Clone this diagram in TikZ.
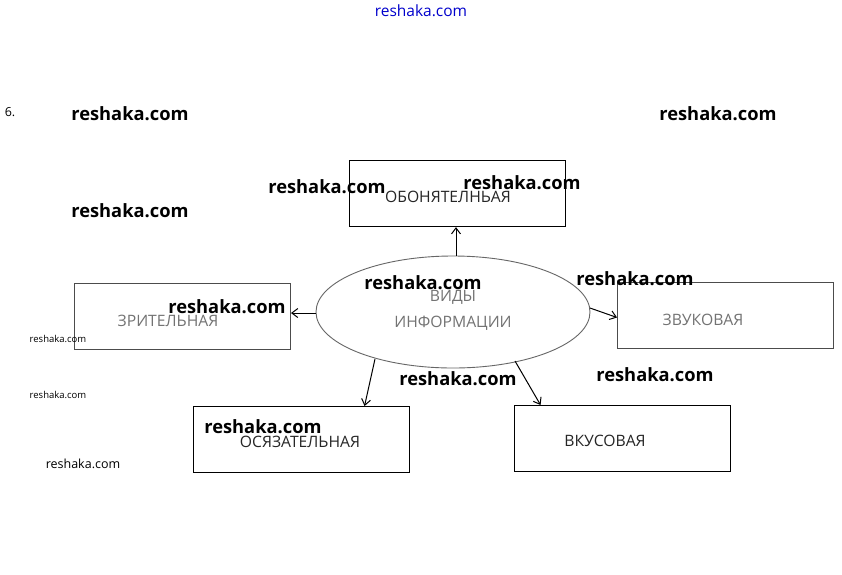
\documentclass[tikz,border=0pt]{standalone}
\usepackage{fontspec}
\setmainfont{Open Sans}
\usetikzlibrary{arrows.meta,calc}
\tikzset{
  box/.style={draw=black, line width=1.1pt, minimum width=216pt, minimum height=66pt, inner sep=0pt, anchor=north west},
  fbox/.style={draw=black!70, line width=1pt, minimum width=216pt, minimum height=66pt, inner sep=0pt, anchor=north west},
  lab/.style={font=\fontsize{15.7}{17}\selectfont, text=black!85, inner sep=0pt},
  flab/.style={font=\fontsize{15.7}{17}\selectfont, text=black!55, inner sep=0pt},
  arr/.style={-{Straight Barb[length=6pt,width=9pt]}, line width=1pt, black},
  wm/.style={font=\fontsize{18.3}{20}\selectfont\bfseries, text=black, inner sep=0pt},
  wms/.style={font=\fontsize{9.5}{11}\selectfont, text=black, inner sep=0pt},
  wmm/.style={font=\fontsize{12.5}{14}\selectfont, text=black, inner sep=0pt},
}
\begin{document}
\begin{tikzpicture}[x=1pt,y=-1pt]
\useasboundingbox[fill=white] (0,0) rectangle (842,574);
% boxes
\node[box]  (ob) at (349,160) {};
\node[fbox] (zr) at (74,283) {};
\node[fbox] (zv) at (617,282) {};
\node[box]  (os) at (193,406) {};
\node[box]  (vk) at (514,405) {};
% box labels
\node[lab]  (tob) at (448,197) {ОБОНЯТЕЛНЬАЯ};
\node[flab] (tzr) at (168,321) {ЗРИТЕЛЬНАЯ};
\node[flab] (tzv) at (703,320) {ЗВУКОВАЯ};
\node[lab]  (tos) at (300,442) {ОСЯЗАТЕЛЬНАЯ};
\node[lab]  (tvk) at (605,441) {ВКУСОВАЯ};
% ellipse
\draw[black!60, line width=0.9pt] (453,312) ellipse [x radius=137, y radius=56];
\coordinate (ell) at (453,312);
\coordinate (eN) at (456,256);
\coordinate (eW) at (316,313);
\coordinate (eE) at (590,308);
\coordinate (eSW) at (375,359);
\coordinate (eSE) at (515,361);
\node[flab] (t1) at (453,297) {ВИДЫ};
\node[flab] (t2) at (453,323) {ИНФОРМАЦИИ};
% arrows
\draw[arr] (eN) -- (eN |- ob.south);
\draw[arr] (eW) -- (eW -| zr.east);
\draw[arr] (eE) -- ([yshift=-2pt]zv.west);
\draw[arr] (eSW) -- ([xshift=63pt]os.north);
\draw[arr] (eSE) -- ([xshift=-82pt]vk.north);
% texts / watermarks
\node[font=\fontsize{15.5}{17}\selectfont, text=blue!80!black, inner sep=0pt] (top) at (421,11) {reshaka.com};
\node[font=\fontsize{12.5}{14}\selectfont, inner sep=0pt] (six) at (10,112) {6.};
\node[wm] (w1) at (130,114) {reshaka.com};
\node[wm] (w2) at (718,114) {reshaka.com};
\node[wm] (w3) at (327,187) {reshaka.com};
\node[wm] (w4) at (522,183) {reshaka.com};
\node[wm] (w5) at (130,211) {reshaka.com};
\node[wm] (w6) at (423,283) {reshaka.com};
\node[wm] (w7) at (635,279) {reshaka.com};
\node[wm] (w8) at (227,307) {reshaka.com};
\node[wm] (w9) at (458,379) {reshaka.com};
\node[wm] (w10) at (655,375) {reshaka.com};
\node[wm] (w11) at (263,427) {reshaka.com};
\node[wms] (s1) at (58,339) {reshaka.com};
\node[wms] (s2) at (58,395) {reshaka.com};
\node[wmm] (s3) at (83,464) {reshaka.com};
\end{tikzpicture}
\end{document}
